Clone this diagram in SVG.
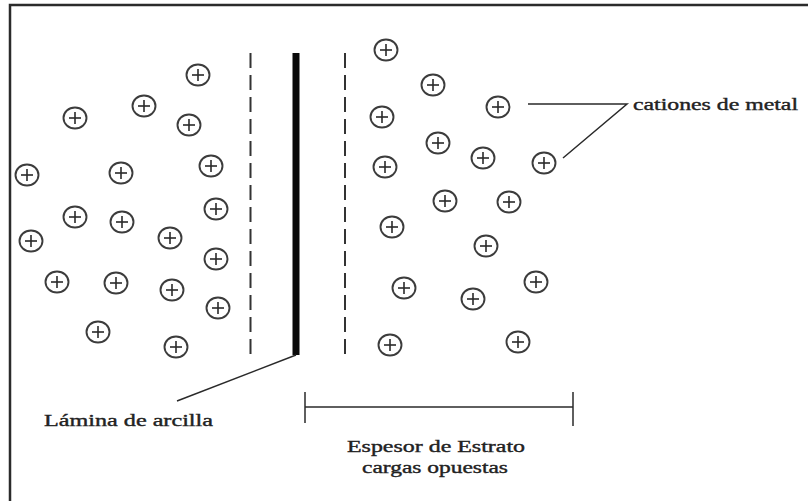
<svg xmlns="http://www.w3.org/2000/svg" xmlns:xlink="http://www.w3.org/1999/xlink" width="808" height="501" viewBox="0 0 808 501">
  <style>
    .frame { stroke: #2b2b2b; stroke-width: 2.5; fill: none; }
    .ring { fill: none; stroke: #3c3c3c; stroke-width: 1.9; }
    .cross { stroke: #2a2a2a; stroke-width: 1.6; }
    .bound { stroke: #333; stroke-width: 2; stroke-dasharray: 15 7; fill: none; }
    .lead { stroke: #2a2a2a; stroke-width: 1.5; fill: none; }
    .label { font-family: "Liberation Serif", "Times New Roman", serif; font-size: 17.5px; fill: #222; stroke: #222; stroke-width: 0.4; }
  </style>
  <defs>
    <!-- a positive metal cation: ringed plus sign -->
    <g id="cation">
      <ellipse class="ring" cx="0" cy="0" rx="11.5" ry="10.5"/>
      <line class="cross" x1="-6" y1="0" x2="6" y2="0"/>
      <line class="cross" x1="0" y1="-6" x2="0" y2="6"/>
    </g>
  </defs>

  <rect width="808" height="501" fill="#ffffff"/>

  <!-- outer frame, open on the right and bottom -->
  <path class="frame" d="M10 501 V5 H808"/>

  <!-- clay sheet and the two layer boundaries -->
  <g id="lamina">
    <rect x="292.5" y="53" width="7" height="302" fill="#0a0a0a"/>
  </g>
  <g id="limite-izq"><line class="bound" x1="250.5" y1="53" x2="250.5" y2="356"/></g>
  <g id="limite-der"><line class="bound" x1="345" y1="53" x2="345" y2="356"/></g>

  <!-- cations, left side -->
  <g id="cationes-izq">
    <use id="ci1" xlink:href="#cation" x="198" y="75"/>
    <use id="ci2" xlink:href="#cation" x="144" y="106"/>
    <use id="ci3" xlink:href="#cation" x="75" y="118"/>
    <use id="ci4" xlink:href="#cation" x="189" y="125"/>
    <use id="ci5" xlink:href="#cation" x="211" y="166"/>
    <use id="ci6" xlink:href="#cation" x="27" y="175"/>
    <use id="ci7" xlink:href="#cation" x="121" y="173"/>
    <use id="ci8" xlink:href="#cation" x="75" y="217"/>
    <use id="ci9" xlink:href="#cation" x="122" y="222"/>
    <use id="ci10" xlink:href="#cation" x="216" y="209"/>
    <use id="ci11" xlink:href="#cation" x="31" y="241"/>
    <use id="ci12" xlink:href="#cation" x="170" y="238"/>
    <use id="ci13" xlink:href="#cation" x="216" y="259"/>
    <use id="ci14" xlink:href="#cation" x="57" y="282"/>
    <use id="ci15" xlink:href="#cation" x="116" y="283"/>
    <use id="ci16" xlink:href="#cation" x="172" y="290"/>
    <use id="ci17" xlink:href="#cation" x="218" y="308"/>
    <use id="ci18" xlink:href="#cation" x="98" y="332"/>
    <use id="ci19" xlink:href="#cation" x="176" y="347"/>
  </g>

  <!-- cations, right side -->
  <g id="cationes-der">
    <use id="cd1" xlink:href="#cation" x="386" y="50"/>
    <use id="cd2" xlink:href="#cation" x="433" y="85"/>
    <use id="cd3" xlink:href="#cation" x="498" y="107"/>
    <use id="cd4" xlink:href="#cation" x="382" y="117"/>
    <use id="cd5" xlink:href="#cation" x="438" y="143"/>
    <use id="cd6" xlink:href="#cation" x="483" y="158"/>
    <use id="cd7" xlink:href="#cation" x="544" y="163"/>
    <use id="cd8" xlink:href="#cation" x="385" y="167"/>
    <use id="cd9" xlink:href="#cation" x="445" y="201"/>
    <use id="cd10" xlink:href="#cation" x="509" y="202"/>
    <use id="cd11" xlink:href="#cation" x="392" y="227"/>
    <use id="cd12" xlink:href="#cation" x="486" y="246"/>
    <use id="cd13" xlink:href="#cation" x="536" y="282"/>
    <use id="cd14" xlink:href="#cation" x="404" y="288"/>
    <use id="cd15" xlink:href="#cation" x="473" y="299"/>
    <use id="cd16" xlink:href="#cation" x="390" y="345"/>
    <use id="cd17" xlink:href="#cation" x="518" y="342"/>
  </g>

  <!-- leader lines and thickness bracket -->
  <g id="conectores">
    <line class="lead" x1="296" y1="355" x2="177" y2="401"/>
    <polyline class="lead" points="528,104 627,104 563,158"/>
    <line class="lead" x1="305" y1="407" x2="573" y2="407"/>
    <line class="lead" x1="305" y1="392" x2="305" y2="423"/>
    <line class="lead" x1="573" y1="392" x2="573" y2="426"/>
  </g>

  <!-- labels -->
  <g id="etiquetas">
    <text class="label" x="44" y="426" textLength="169" lengthAdjust="spacingAndGlyphs">Lámina de arcilla</text>
    <text class="label" x="633" y="110" textLength="165" lengthAdjust="spacingAndGlyphs">cationes de metal</text>
    <text class="label" x="347" y="452" textLength="178" lengthAdjust="spacingAndGlyphs">Espesor de Estrato</text>
    <text class="label" x="362" y="473" textLength="146" lengthAdjust="spacingAndGlyphs">cargas opuestas</text>
  </g>
</svg>
